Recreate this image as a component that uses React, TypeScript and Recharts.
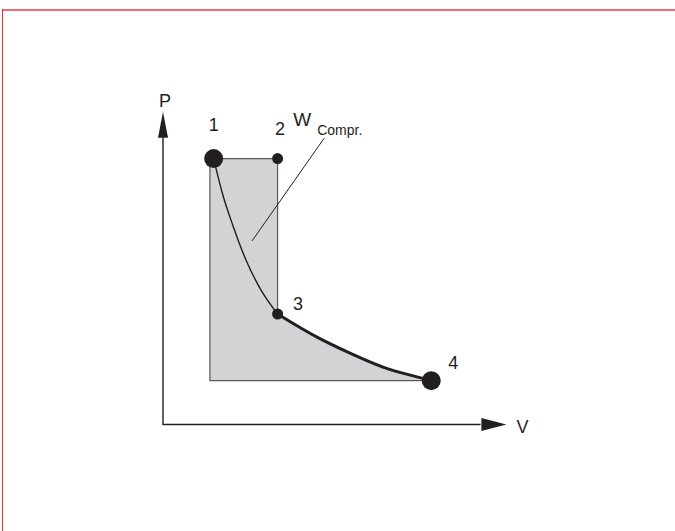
import React from 'react';
import { ComposedChart, XAxis, YAxis, Line, Area, Scatter } from 'recharts';

// State points of the cycle (V, P in arbitrary units)
const states = [
  { name: '1', v: 14.9, p: 78.2 },
  { name: '2', v: 33.7, p: 78.2 },
  { name: '3', v: 33.7, p: 32.5 },
  { name: '4', v: 78.9, p: 12.9 },
];
// Thin curve 1 -> 3
const curve13 = [
  { v: 14.9, p: 78.2 },
  { v: 17.35, p: 68.4 },
  { v: 20.6, p: 58.4 },
  { v: 24.4, p: 48.4 },
  { v: 28.8, p: 39.6 },
  { v: 33.7, p: 32.5 },
];
// Thick curve 3 -> 4
const curve34 = [
  { v: 33.7, p: 32.5 },
  { v: 45.3, p: 25.7 },
  { v: 55.0, p: 21.0 },
  { v: 64.7, p: 16.9 },
  { v: 74.7, p: 14.0 },
  { v: 78.9, p: 12.9 },
];
const workLeftV = [13.8];
const workBottomP = [12.9];
const leaderLine = [
  { v: 26.2, p: 54.0 },
  { v: 47.4, p: 84.2 },
];
const axisLine = [
  { v: 0, p: 84.4 },
  { v: 0, p: 0 },
  { v: 93.4, p: 0 },
];
const axisArrows = [
  { v: 0, p: 92, dir: 'up', label: 'P' },
  { v: 101, p: 0, dir: 'right', label: 'V' },
];
const workLabel = [{ v: 47.4, p: 84.2, main: 'W', sub: 'Compr.' }];

// Derived tables
const shadeData = [
  { v: workLeftV[0], p: states[1].p },
  { v: states[1].v, p: states[1].p },
  ...curve34,
];
const outlineData = [
  { v: states[3].v, p: workBottomP[0] },
  { v: workLeftV[0], p: workBottomP[0] },
  { v: workLeftV[0], p: states[1].p },
  { v: states[1].v, p: states[1].p },
  { v: states[2].v, p: states[2].p },
];

const FONT = '"Liberation Sans", Arial, Helvetica, sans-serif';
const INK = '#231f20';
const labelOffsets: Record<string, [number, number]> = {
  '1': [0, -27.7],
  '2': [2.5, -23.7],
  '3': [20.5, -4],
  '4': [22, -11.5],
};
const bigPoints = ['1', '4'];

const StateShape = (props: any) => {
  const { cx, cy, payload } = props;
  const r = bigPoints.includes(payload.name) ? 9.5 : 5.5;
  const [dx, dy] = labelOffsets[payload.name];
  return (
    <g>
      <circle cx={cx} cy={cy} r={r} fill={INK} />
      <text x={cx + dx} y={cy + dy} textAnchor="middle" fontFamily={FONT} fontSize={18} fill={INK}>
        {payload.name}
      </text>
    </g>
  );
};

const ArrowShape = (props: any) => {
  const { cx, cy, payload } = props;
  if (payload.dir === 'up') {
    const L = 26, hw = 5;
    return (
      <g>
        <polygon points={`${cx},${cy} ${cx - hw},${cy + L} ${cx + hw},${cy + L}`} fill={INK} />
        <text x={cx + 2} y={cy - 4.7} textAnchor="middle" fontFamily={FONT} fontSize={18} fill={INK}>
          {payload.label}
        </text>
      </g>
    );
  }
  const L = 25, hw = 6.5;
  return (
    <g>
      <polygon points={`${cx},${cy} ${cx - L},${cy - hw} ${cx - L},${cy + hw}`} fill={INK} />
      <text x={cx + 16} y={cy + 8.5} textAnchor="middle" fontFamily={FONT} fontSize={18} fill={INK}>
        {payload.label}
      </text>
    </g>
  );
};

const WorkLabelShape = (props: any) => {
  const { cx, cy, payload } = props;
  return (
    <g>
      <text x={cx - 31} y={cy - 12} fontFamily={FONT} fontSize={19} fill={INK}>
        {payload.main}
      </text>
      <text x={cx - 7} y={cy - 3} fontFamily={FONT} fontSize={14} fill={INK}>
        {payload.sub}
      </text>
    </g>
  );
};

export default function App() {
  return (
    <div style={{ position: 'absolute', left: 0, top: 0, width: 675, height: 531, background: '#fff', overflow: 'hidden' }}>
      <div style={{ position: 'absolute', left: 2, top: 9, width: 673, height: 2, background: '#f36b73' }} />
      <div style={{ position: 'absolute', left: 1.5, top: 9, width: 1.6, height: 522, background: '#ee2b36' }} />
      <div style={{ position: 'absolute', left: 0, top: 0 }}>
        <ComposedChart
          width={675}
          height={531}
          margin={{ top: 84.5, right: 155, bottom: 106.5, left: 163 }}
          style={{ overflow: 'visible' }}
        >
          <XAxis dataKey="v" type="number" domain={[0, 105]} hide />
          <YAxis dataKey="p" type="number" domain={[0, 100]} hide />
          <Area
            data={shadeData}
            dataKey="p"
            type="linear"
            baseValue={workBottomP[0]}
            fill="#d1d3d4"
            fillOpacity={1}
            stroke="none"
            isAnimationActive={false}
          />
          <Line data={outlineData} dataKey="p" type="linear" stroke="#58595b" strokeWidth={1.2} dot={false} isAnimationActive={false} />
          <Line data={curve13} dataKey="p" type="monotone" stroke={INK} strokeWidth={1.4} dot={false} isAnimationActive={false} />
          <Line data={curve34} dataKey="p" type="monotone" stroke={INK} strokeWidth={3} dot={false} isAnimationActive={false} />
          <Line data={leaderLine} dataKey="p" type="linear" stroke={INK} strokeWidth={1} dot={false} isAnimationActive={false} />
          <Line data={axisLine} dataKey="p" type="linear" stroke={INK} strokeWidth={1.4} dot={false} isAnimationActive={false} />
          <Scatter data={axisArrows} dataKey="p" shape={ArrowShape} isAnimationActive={false} />
          <Scatter data={states} dataKey="p" shape={StateShape} isAnimationActive={false} />
          <Scatter data={workLabel} dataKey="p" shape={WorkLabelShape} isAnimationActive={false} />
        </ComposedChart>
      </div>
    </div>
  );
}
